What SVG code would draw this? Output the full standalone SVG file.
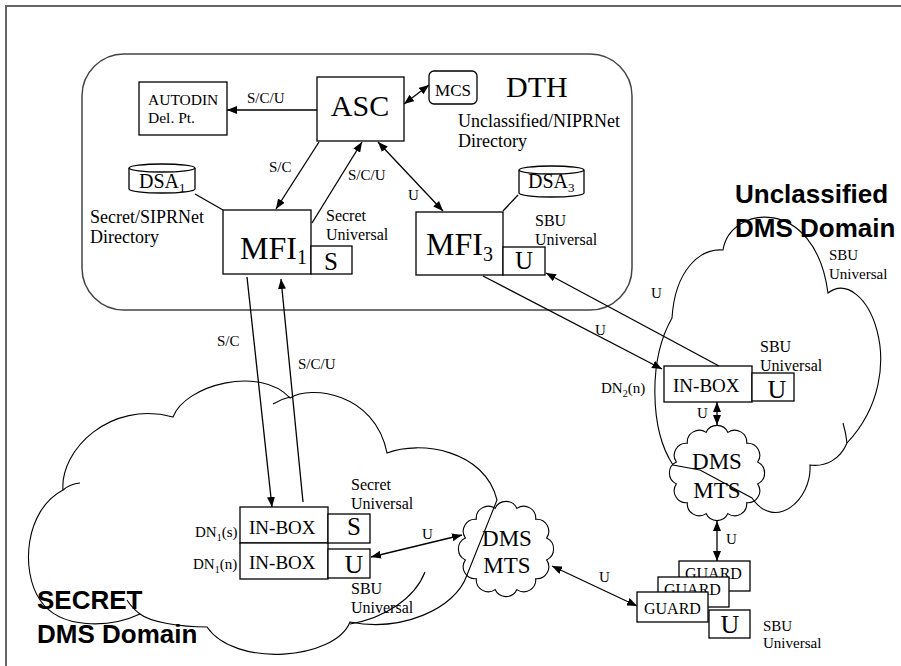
<svg xmlns="http://www.w3.org/2000/svg" width="901" height="666" viewBox="0 0 901 666">
<defs>
<style>
.ln{stroke:#000;stroke-width:1.3;fill:none}
.cl{stroke:#000;stroke-width:1.1;fill:none}
.bx{fill:#fff;stroke:#000;stroke-width:1.3}
.t{font-family:"Liberation Serif","Times New Roman",serif;fill:#000}
.b{font-family:"Liberation Sans",Arial,sans-serif;font-weight:bold;font-size:26px;fill:#000}
.s15{font-size:15px}
.s16{font-size:16px}
.s18{font-size:18px}
.mid{text-anchor:middle}
</style>
<marker id="ah" viewBox="0 0 10 8" refX="10" refY="4" markerWidth="10" markerHeight="8" markerUnits="userSpaceOnUse" orient="auto-start-reverse"><path d="M0,0 L10,4 L0,8 z" fill="#000"/></marker>
</defs>
<rect width="901" height="666" fill="#fff"/>
<rect x="6" y="6" width="1000" height="1000" fill="none" stroke="#666" stroke-width="2"/>

<g id="dth">
<rect x="82" y="54" width="550" height="256" rx="42" ry="42" fill="none" stroke="#444" stroke-width="1.5"/>
<text class="t" x="506" y="97" font-size="30">DTH</text>
<text class="t s18" x="458" y="127">Unclassified/NIPRNet</text>
<text class="t s18" x="458" y="147">Directory</text>
</g>

<g id="secret-domain">
<path class="cl" fill="#fff" d="M63,490 C60,450 110,400 173,417 C185,385 260,365 290,398 C310,385 375,392 387,453 C420,440 485,450 497,500 L467,575 C455,610 400,632 350,622 C335,660 235,668 207,627 C180,627 150,622 140,614 C110,628 60,630 40,600 C20,570 25,510 63,490 Z"/>
<path class="cl" d="M63,490 Q70,484 80,483 M273,404 Q281,399 290,397 M425,572 C415,598 385,618 350,624 M140,614 Q132,608 127,600"/>
<text class="b" x="37" y="609">SECRET</text>
<text class="b" x="37" y="643">DMS Domain</text>
</g>

<g id="unclass-domain">
<path class="cl" fill="#fff" d="M672,318 C675,270 700,248 723,250 C730,205 815,195 828,293 C865,265 915,370 847,443 C840,460 825,467 810,465 C812,500 775,532 752,498 L700,470 L673,465 C650,430 648,360 672,318 Z"/>
<path class="cl" d="M843,423 Q846,433 847,443"/>
<text class="b" x="735" y="203">Unclassified</text>
<text class="b" x="735" y="237">DMS Domain</text>
<text class="t s15" x="829" y="260">SBU</text>
<text class="t s15" x="829" y="279">Universal</text>
</g>

<g id="mts-left">
<path class="cl" fill="#fff" d="M516.9,508.4 A12,12 0 0 1 535.7,519.3 A12,12 0 0 1 546.6,538.1 A12,12 0 0 1 546.6,559.9 A12,12 0 0 1 535.7,578.7 A12,12 0 0 1 516.9,589.6 A12,12 0 0 1 495.1,589.6 A12,12 0 0 1 476.3,578.7 A12,12 0 0 1 465.4,559.9 A12,12 0 0 1 465.4,538.1 A12,12 0 0 1 476.3,519.3 A12,12 0 0 1 495.1,508.4 A12,12 0 0 1 516.9,508.4 Z"/>
<text class="t mid" x="507" y="546" font-size="23">DMS</text>
<text class="t mid" x="507" y="573" font-size="23">MTS</text>
</g>

<g id="mts-right">
<path class="cl" fill="#fff" d="M727.9,432.4 A12,12 0 0 1 746.7,443.3 A12,12 0 0 1 757.6,462.1 A12,12 0 0 1 757.6,483.9 A12,12 0 0 1 746.7,502.7 A12,12 0 0 1 727.9,513.6 A12,12 0 0 1 706.1,513.6 A12,12 0 0 1 687.3,502.7 A12,12 0 0 1 676.4,483.9 A12,12 0 0 1 676.4,462.1 A12,12 0 0 1 687.3,443.3 A12,12 0 0 1 706.1,432.4 A12,12 0 0 1 727.9,432.4 Z"/>
<text class="t mid" x="717" y="469" font-size="23">DMS</text>
<text class="t mid" x="717" y="498" font-size="23">MTS</text>
</g>

<g id="autodin">
<rect class="bx" x="139" y="82" width="88" height="53"/>
<text class="t" x="148" y="105" font-size="15.5">AUTODIN</text>
<text class="t" x="148" y="123" font-size="15.5">Del. Pt.</text>
</g>

<g id="asc">
<rect class="bx" x="317" y="77" width="87" height="64"/>
<text class="t mid" x="360" y="116" font-size="30">ASC</text>
</g>

<g id="mcs">
<rect class="bx" x="429" y="71" width="48" height="33" rx="5"/>
<text class="t mid" x="453" y="96" font-size="17">MCS</text>
</g>

<g id="dsa1">
<path class="bx" d="M129,168 L129,189 A33,4 0 0 0 195,189 L195,168"/>
<ellipse class="bx" cx="162" cy="168" rx="33" ry="4"/>
<text class="t" x="139" y="188" font-size="20">DSA<tspan font-size="13" dy="4">1</tspan></text>
</g>
<g id="secret-dir">
<text class="t s18" x="90" y="223">Secret/SIPRNet</text>
<text class="t s18" x="90" y="243">Directory</text>
</g>

<g id="mfi1">
<rect class="bx" x="223" y="210" width="88" height="64"/>
<text class="t" x="240" y="259" font-size="32">MFI<tspan font-size="20" dy="5">1</tspan></text>
<rect class="bx" x="311" y="246" width="41" height="28"/>
<text class="t mid" x="331" y="270" font-size="25">S</text>
<text class="t s16" x="326" y="221">Secret</text>
<text class="t s16" x="326" y="240">Universal</text>
</g>

<g id="dsa3">
<path class="bx" d="M519,170 L519,193 A32.5,4 0 0 0 584,193 L584,170"/>
<ellipse class="bx" cx="551.5" cy="170" rx="32.5" ry="4"/>
<text class="t" x="528" y="188" font-size="20">DSA<tspan font-size="13" dy="4">3</tspan></text>
</g>

<g id="mfi3">
<rect class="bx" x="416" y="212" width="87" height="63"/>
<text class="t" x="426" y="255" font-size="32">MFI<tspan font-size="20" dy="6">3</tspan></text>
<rect class="bx" x="503" y="247" width="42" height="28"/>
<text class="t mid" x="524" y="269" font-size="25">U</text>
<text class="t s16" x="535" y="226">SBU</text>
<text class="t s16" x="535" y="245">Universal</text>
</g>

<g id="inbox-unclass">
<rect class="bx" x="664" y="366" width="88" height="36"/>
<text class="t" x="673" y="392" font-size="19">IN-BOX</text>
<rect class="bx" x="752" y="373" width="42" height="28"/>
<text class="t mid" x="777" y="398" font-size="26">U</text>
<text class="t s16" x="760" y="352">SBU</text>
<text class="t s16" x="760" y="371">Universal</text>
<text class="t s15" x="601" y="393">DN<tspan font-size="10" dy="4">2</tspan><tspan dy="-4">(n)</tspan></text>
</g>

<g id="inbox-secret">
<rect class="bx" x="240" y="507" width="88" height="36"/>
<text class="t" x="249" y="534" font-size="19">IN-BOX</text>
<rect class="bx" x="240" y="543" width="88" height="36"/>
<text class="t" x="249" y="569" font-size="19">IN-BOX</text>
<rect class="bx" x="328" y="514" width="42" height="29"/>
<text class="t mid" x="354" y="535" font-size="25">S</text>
<rect class="bx" x="328" y="549" width="42" height="29"/>
<text class="t mid" x="354" y="573" font-size="26">U</text>
<text class="t s15" x="195" y="537">DN<tspan font-size="10" dy="4">1</tspan><tspan dy="-4">(s)</tspan></text>
<text class="t s15" x="193" y="569">DN<tspan font-size="10" dy="4">1</tspan><tspan dy="-4">(n)</tspan></text>
<text class="t s16" x="351" y="490">Secret</text>
<text class="t s16" x="351" y="509">Universal</text>
<text class="t s16" x="351" y="594">SBU</text>
<text class="t s16" x="351" y="613">Universal</text>
</g>

<g id="guard">
<rect class="bx" x="679" y="561" width="71" height="30"/>
<text class="t s16" x="685" y="579">GUARD</text>
<rect class="bx" x="658" y="577" width="71" height="30"/>
<text class="t s16" x="664" y="595">GUARD</text>
<rect class="bx" x="637" y="592" width="71" height="30"/>
<text class="t s16" x="644" y="614">GUARD</text>
<rect class="bx" x="709" y="610" width="41" height="28"/>
<text class="t mid" x="730" y="633" font-size="26">U</text>
<text class="t s15" x="763" y="631">SBU</text>
<text class="t s15" x="763" y="648">Universal</text>
</g>

<g id="connectors">
<line class="ln" x1="195" y1="194" x2="223" y2="210"/>
<line class="ln" x1="518" y1="195" x2="503" y2="211"/>
<line class="ln" x1="317" y1="110" x2="227" y2="110" marker-end="url(#ah)"/>
<line class="ln" x1="404" y1="104" x2="429" y2="85" marker-start="url(#ah)" marker-end="url(#ah)"/>
<line class="ln" x1="319" y1="142" x2="276" y2="209" marker-end="url(#ah)"/>
<line class="ln" x1="312" y1="223" x2="362" y2="142" marker-end="url(#ah)"/>
<line class="ln" x1="378" y1="142" x2="443" y2="211" marker-start="url(#ah)" marker-end="url(#ah)"/>
<line class="ln" x1="483" y1="276" x2="662" y2="369" marker-end="url(#ah)"/>
<line class="ln" x1="719" y1="366" x2="546" y2="273" marker-end="url(#ah)"/>
<line class="ln" x1="247" y1="277" x2="272" y2="507" marker-end="url(#ah)"/>
<line class="ln" x1="303" y1="502" x2="281" y2="279" marker-end="url(#ah)"/>
<line class="ln" x1="717" y1="402" x2="717" y2="425" marker-start="url(#ah)" marker-end="url(#ah)"/>
<line class="ln" x1="717" y1="521" x2="717" y2="561" marker-start="url(#ah)" marker-end="url(#ah)"/>
<line class="ln" x1="371" y1="557" x2="462" y2="535" marker-start="url(#ah)" marker-end="url(#ah)"/>
<line class="ln" x1="552" y1="566" x2="637" y2="606" marker-start="url(#ah)" marker-end="url(#ah)"/>
<text class="t s15" x="247" y="103">S/C/U</text>
<text class="t s15" x="269" y="172">S/C</text>
<text class="t s15" x="348" y="180">S/C/U</text>
<text class="t s15" x="408" y="200">U</text>
<text class="t s15" x="595" y="335">U</text>
<text class="t s15" x="651" y="298">U</text>
<text class="t s15" x="697" y="418">U</text>
<text class="t s15" x="726" y="544">U</text>
<text class="t s15" x="599" y="582">U</text>
<text class="t s15" x="422" y="539">U</text>
<text class="t s15" x="217" y="346">S/C</text>
<text class="t s15" x="298" y="369">S/C/U</text>
</g>
</svg>
